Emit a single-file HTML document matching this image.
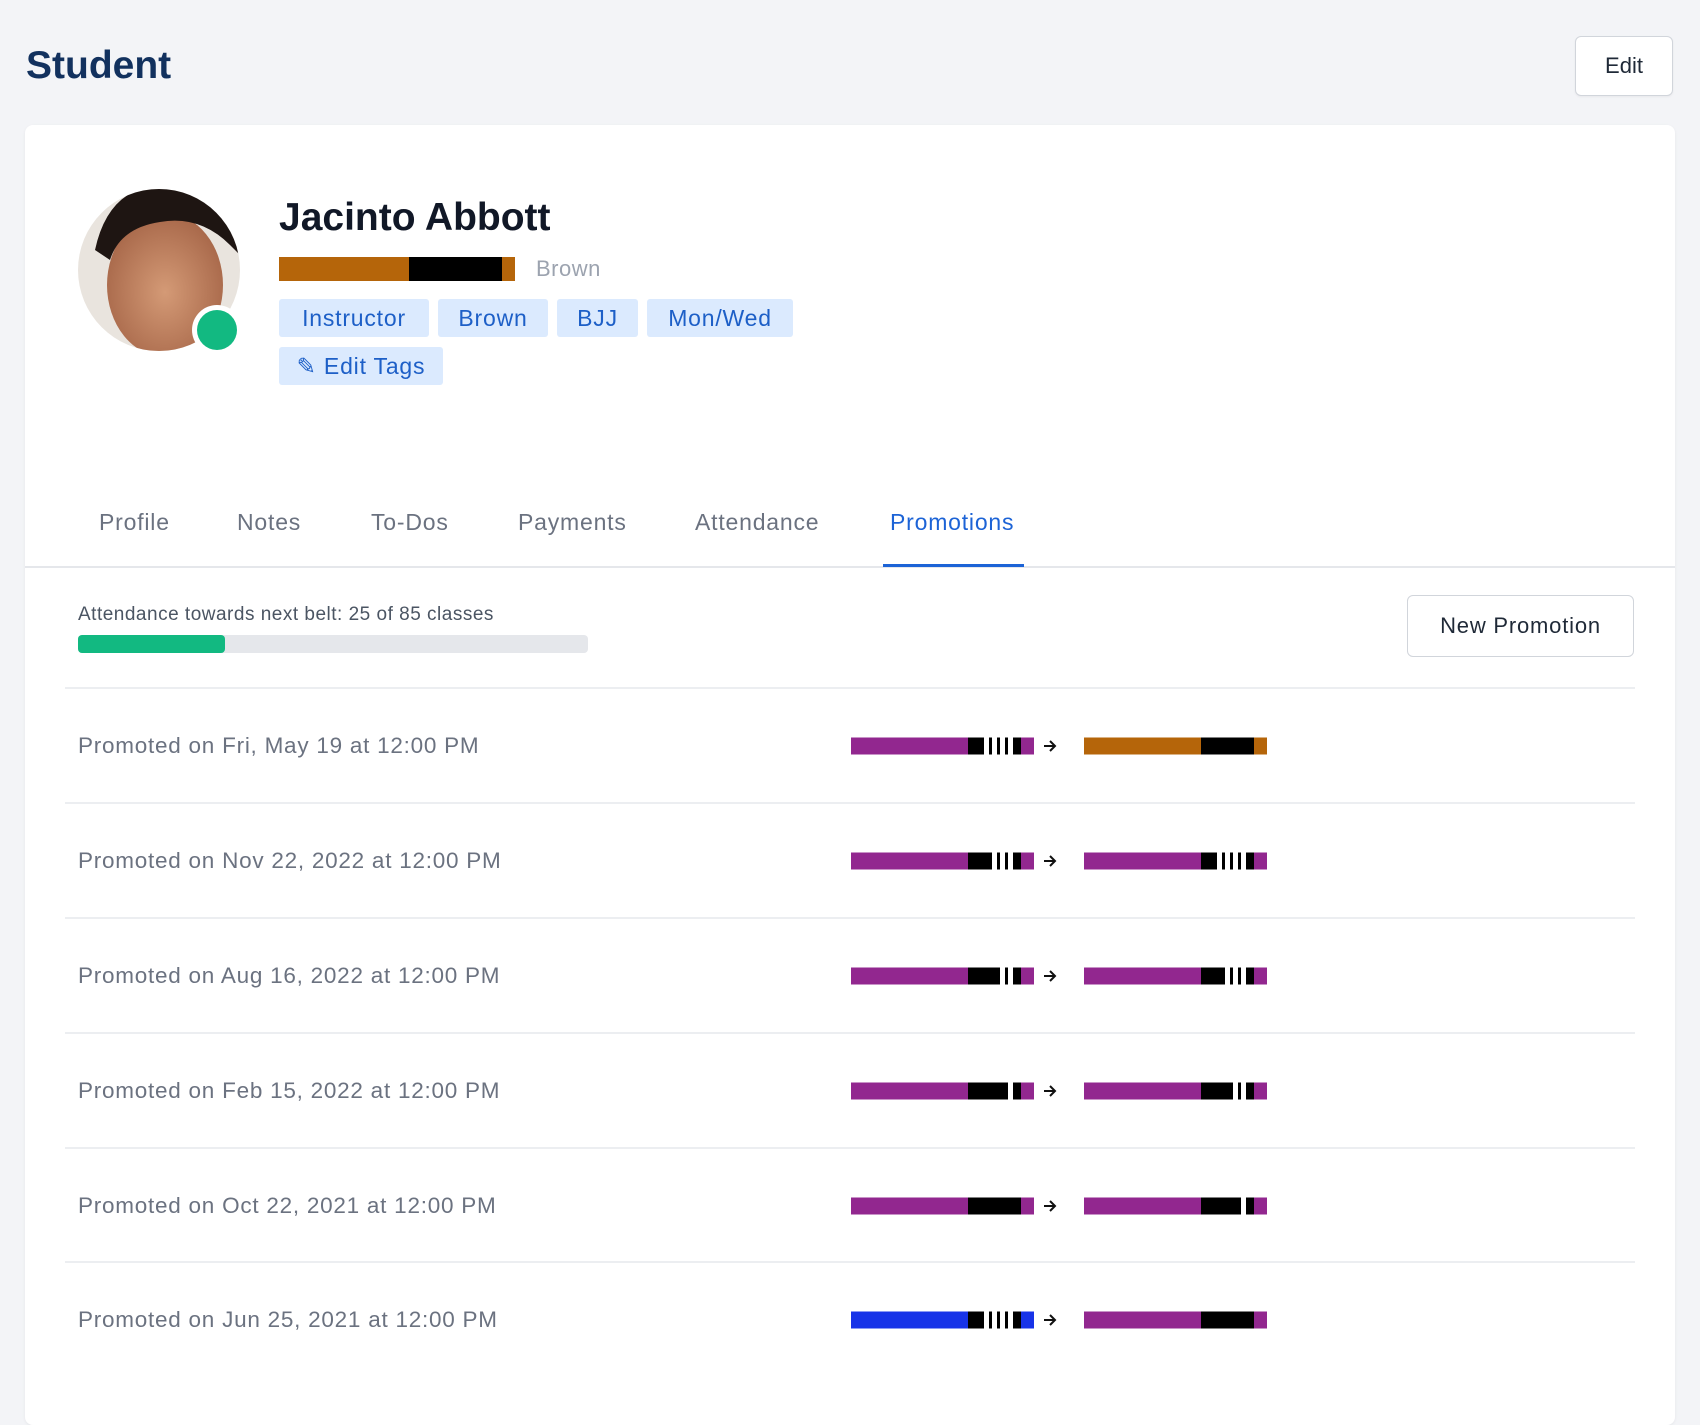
<!DOCTYPE html>
<html><head><meta charset="utf-8"><style>
*{margin:0;padding:0;box-sizing:border-box}
body{width:1700px;height:1366px;background:#f3f4f7;font-family:"Liberation Sans",sans-serif;position:relative;overflow:hidden;color:#374151}
.a{position:absolute}
.title{left:26px;top:44px;font-size:39px;font-weight:bold;color:#12315e}
.edit{left:1575px;top:36px;width:98px;height:60px;border:1px solid #d1d5db;border-radius:6px;background:#fff;font-size:22px;display:flex;align-items:center;justify-content:center;color:#1f2937;box-shadow:0 1px 2px rgba(0,0,0,.05)}
.card{left:25px;top:125px;width:1650px;height:1300px;background:#fff;border-radius:8px;box-shadow:0 1px 3px rgba(0,0,0,.06)}
.tag{top:299px;height:38px;background:#dbeafe;color:#1d5fc7;font-size:23px;display:flex;align-items:center;justify-content:center;border-radius:3px;letter-spacing:.8px}
.tab{top:509px;font-size:23px;color:#6b7280;letter-spacing:.8px}
.row{left:78px;font-size:22.5px;color:#6b7280;letter-spacing:.75px}
.sep{left:65px;width:1570px;height:2px;background:#eceef1}
</style></head><body>
<div class="a title">Student</div>
<div class="a edit">Edit</div>
<div class="a card"></div>
<svg class="a" style="left:0;top:0" width="1700" height="1366">
<defs><clipPath id="av"><circle cx="159" cy="270" r="81"/></clipPath>
<radialGradient id="sk" cx="50%" cy="55%" r="55%"><stop offset="0" stop-color="#d49a76"/><stop offset="1" stop-color="#a8684a"/></radialGradient></defs>
<g clip-path="url(#av)"><rect x="70" y="180" width="180" height="180" fill="#e9e4de"/>
<ellipse cx="165" cy="285" rx="58" ry="72" fill="url(#sk)"/>
<path d="M95 250 Q110 180 175 185 Q235 190 245 260 L230 245 Q200 215 160 222 Q120 228 110 260Z" fill="#1e1512"/></g>
<circle cx="217" cy="330" r="25" fill="#fff"/><circle cx="217" cy="330" r="20" fill="#12b981"/>
<rect x="279" y="257" width="236" height="24" fill="#b5650a"/><rect x="409" y="257" width="93" height="24" fill="#000"/>
</svg>
<div class="a" style="left:279px;top:196px;font-size:39px;font-weight:bold;color:#111827">Jacinto Abbott</div>
<div class="a" style="left:536px;top:256px;font-size:22px;color:#9ca3af;letter-spacing:.5px">Brown</div>
<div class="a tag" style="left:279px;width:150px">Instructor</div>
<div class="a tag" style="left:438px;width:110px">Brown</div>
<div class="a tag" style="left:557px;width:81px">BJJ</div>
<div class="a tag" style="left:647px;width:146px">Mon/Wed</div>
<div class="a tag" style="left:279px;top:347px;width:164px">✎ Edit Tags</div>
<div class="a tab" style="left:99px">Profile</div>
<div class="a tab" style="left:237px">Notes</div>
<div class="a tab" style="left:371px">To-Dos</div>
<div class="a tab" style="left:518px">Payments</div>
<div class="a tab" style="left:695px">Attendance</div>
<div class="a tab" style="left:890px;color:#1c63d6">Promotions</div>
<div class="a" style="left:25px;top:566px;width:1650px;height:2px;background:#e5e7eb"></div>
<div class="a" style="left:883px;top:564px;width:141px;height:3px;background:#1c63d6"></div>
<div class="a" style="left:78px;top:604px;font-size:19px;color:#4b5563;letter-spacing:.5px">Attendance towards next belt: 25 of 85 classes</div>
<div class="a" style="left:78px;top:635px;width:510px;height:18px;background:#e5e7eb;border-radius:4px"></div>
<div class="a" style="left:78px;top:635px;width:147px;height:18px;background:#12b981;border-radius:4px"></div>
<div class="a" style="left:1407px;top:595px;width:227px;height:62px;border:1px solid #d1d5db;border-radius:6px;font-size:22px;color:#1f2937;display:flex;align-items:center;justify-content:center;letter-spacing:.8px">New Promotion</div>
<div class="a sep" style="top:687px"></div><div class="a sep" style="top:802px"></div><div class="a sep" style="top:917px"></div><div class="a sep" style="top:1032px"></div><div class="a sep" style="top:1147px"></div><div class="a sep" style="top:1261px"></div>
<div class="a row" style="top:733px">Promoted on Fri, May 19 at 12:00 PM</div>
<div class="a row" style="top:848px">Promoted on Nov 22, 2022 at 12:00 PM</div>
<div class="a row" style="top:963px">Promoted on Aug 16, 2022 at 12:00 PM</div>
<div class="a row" style="top:1078px">Promoted on Feb 15, 2022 at 12:00 PM</div>
<div class="a row" style="top:1193px">Promoted on Oct 22, 2021 at 12:00 PM</div>
<div class="a row" style="top:1307px">Promoted on Jun 25, 2021 at 12:00 PM</div>
<svg class="a" style="left:0;top:0" width="1700" height="1366" id="belts"></svg>
<script>
var rows=[[746,'#92278f',4,'#b5650a',0],[861,'#92278f',3,'#92278f',4],[976,'#92278f',2,'#92278f',3],[1091,'#92278f',1,'#92278f',2],[1206,'#92278f',0,'#92278f',1],[1320,'#1733e8',4,'#92278f',0]];
var st=[133,141,149,157],h='';
function belt(x,y,c,n){var s='<rect x="'+x+'" y="'+(y-8.5)+'" width="183" height="17" fill="'+c+'"/><rect x="'+(x+117)+'" y="'+(y-8.5)+'" width="53" height="17" fill="#000"/>';
for(var i=4-n;i<4;i++)s+='<rect x="'+(x+st[i])+'" y="'+(y-8.5)+'" width="5" height="17" fill="#fff"/>';return s;}
rows.forEach(function(r){h+=belt(851,r[0],r[1],r[2])+belt(1084,r[0],r[3],r[4])+'<path d="M1044 '+r[0]+' h11 M1050 '+(r[0]-5)+' l5 5 l-5 5" stroke="#111" stroke-width="2" fill="none"/>';});
document.getElementById('belts').innerHTML=h;
</script>
</body></html>
